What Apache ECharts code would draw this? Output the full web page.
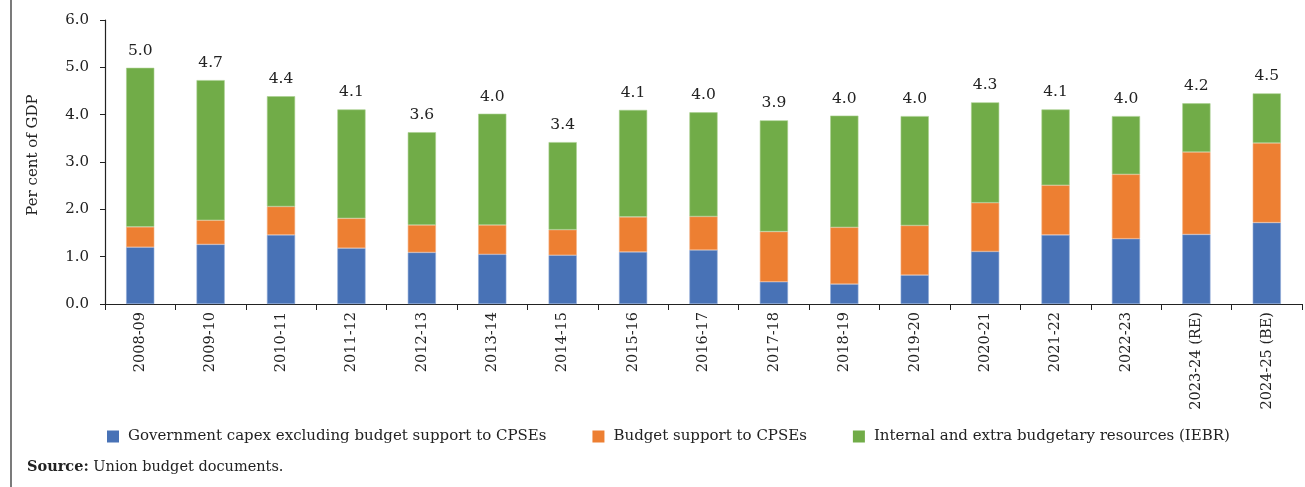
<!DOCTYPE html>
<html>
<head>
<meta charset="utf-8">
<script src="https://cdn.jsdelivr.net/npm/echarts@6/dist/echarts.min.js"></script>
<style>
html,body{margin:0;padding:0;background:#fff;}
#c{width:1305px;height:487px;}
</style>
</head>
<body>
<div id="c"></div>
<script>
const categories = ['2008-09','2009-10','2010-11','2011-12','2012-13','2013-14','2014-15','2015-16','2016-17','2017-18','2018-19','2019-20','2020-21','2021-22','2022-23','2023-24 (RE)','2024-25 (BE)'];
const govCapex = [1.20,1.26,1.46,1.18,1.09,1.05,1.03,1.10,1.14,0.47,0.42,0.61,1.11,1.46,1.38,1.47,1.72];
const budgetSupport = [0.43,0.51,0.60,0.63,0.58,0.62,0.54,0.74,0.71,1.06,1.20,1.05,1.03,1.05,1.36,1.74,1.68];
const iebr = [3.36,2.96,2.33,2.30,1.96,2.35,1.85,2.26,2.20,2.35,2.36,2.31,2.12,1.60,1.23,1.03,1.05];
const totalLabels = ['5.0','4.7','4.4','4.1','3.6','4.0','3.4','4.1','4.0','3.9','4.0','4.0','4.3','4.1','4.0','4.2','4.5'];
const yTicks = [0,1,2,3,4,5,6];
const seriesNames = ['Government capex excluding budget support to CPSEs','Budget support to CPSEs','Internal and extra budgetary resources (IEBR)'];

const FONT = 'DejaVu Serif';
const chart = echarts.init(document.getElementById('c'), null, {renderer:'canvas'});
chart.setOption({
  animation: false,
  backgroundColor: '#fff',
  textStyle: {fontFamily: FONT},
  grid: {left: 105, right: 3, top: 20, bottom: 183, containLabel: false},
  legend: {
    left: 102, top: 424,
    itemWidth: 12, itemHeight: 12, itemGap: 46,
    icon: 'rect',
    itemStyle: {borderWidth: 0},
    textStyle: {fontFamily: FONT, fontSize: 15, color: '#222', padding: [0,0,0,4]},
    data: seriesNames
  },
  xAxis: {
    type: 'category',
    data: categories,
    axisLine: {lineStyle: {color: '#222', width: 1.2}},
    axisTick: {show: true, alignWithLabel: false, length: 6, lineStyle: {color: '#222'}},
    axisLabel: {rotate: 90, margin: 8, fontFamily: FONT, fontSize: 14.5, color: '#222', interval: 0}
  },
  yAxis: {
    type: 'value',
    min: yTicks[0], max: yTicks[yTicks.length-1], interval: 1,
    name: 'Per cent of GDP',
    nameLocation: 'middle',
    nameGap: 64,
    nameTextStyle: {fontFamily: FONT, fontSize: 15, color: '#222', padding: [0,0,0,14]},
    axisLine: {show: true, lineStyle: {color: '#222', width: 1.2}},
    axisTick: {show: true, length: 5, lineStyle: {color: '#222'}},
    axisLabel: {margin: 16, fontFamily: FONT, fontSize: 15, color: '#222', formatter: v => v.toFixed(1)},
    splitLine: {show: false}
  },
  series: [
    {name: seriesNames[0], type: 'bar', stack: 't', data: govCapex, barWidth: '40%',
     itemStyle: {color: '#4872B6', borderColor: '#8fa9d6', borderWidth: 0.6}},
    {name: seriesNames[1], type: 'bar', stack: 't', data: budgetSupport, barWidth: '40%',
     itemStyle: {color: '#ED7F32', borderColor: '#f4b083', borderWidth: 0.6}},
    {name: seriesNames[2], type: 'bar', stack: 't', data: iebr, barWidth: '40%',
     itemStyle: {color: '#71AC48', borderColor: '#a9d08e', borderWidth: 0.6},
     label: {show: true, position: 'top', distance: 9, fontFamily: FONT, fontSize: 15.5, color: '#222',
             formatter: p => totalLabels[p.dataIndex]}}
  ],
  graphic: [
    {type: 'line', shape: {x1: 11, y1: 0, x2: 11, y2: 487}, style: {stroke: '#222', lineWidth: 1.2}},
    {type: 'text', left: 27, top: 460, style: {
      text: '{b|Source:} Union budget documents.',
      rich: {b: {fontWeight: 'bold', fontFamily: FONT, fontSize: 14.5, fill: '#222'}},
      font: '14.5px "DejaVu Serif"', fill: '#222'}}
  ]
});
</script>
</body>
</html>
